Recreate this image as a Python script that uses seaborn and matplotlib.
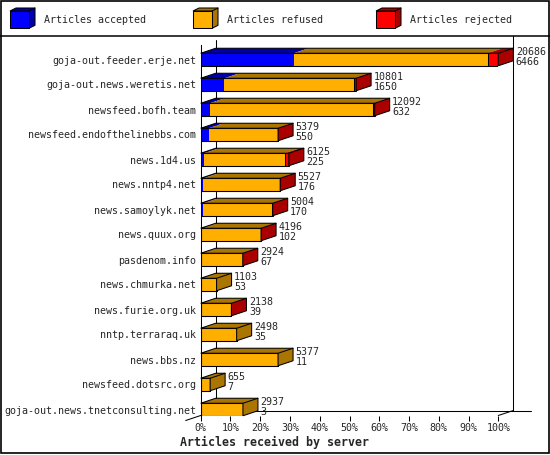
import matplotlib
matplotlib.use("Agg")
import matplotlib.pyplot as plt
import seaborn as sns
import pandas as pd
from matplotlib.patches import Polygon, Rectangle
from matplotlib.lines import Line2D

# ---------------- data ----------------
hosts = [
    "goja-out.feeder.erje.net",
    "goja-out.news.weretis.net",
    "newsfeed.bofh.team",
    "newsfeed.endofthelinebbs.com",
    "news.1d4.us",
    "news.nntp4.net",
    "news.samoylyk.net",
    "news.quux.org",
    "pasdenom.info",
    "news.chmurka.net",
    "news.furie.org.uk",
    "nntp.terraraq.uk",
    "news.bbs.nz",
    "newsfeed.dotsrc.org",
    "goja-out.news.tnetconsulting.net",
]
offered = [20686, 10801, 12092, 5379, 6125, 5527, 5004, 4196, 2924, 1103, 2138, 2498, 5377, 655, 2937]
accepted = [6466, 1650, 632, 550, 225, 176, 170, 102, 67, 53, 39, 35, 11, 7, 3]
rejected = [750, 150, 90, 20, 280, 25, 20, 15, 10, 0, 10, 0, 0, 0, 0]
refused = [o - a - r for o, a, r in zip(offered, accepted, rejected)]

series_names = ["Articles accepted", "Articles refused", "Articles rejected"]
front_colors = ["#0000FF", "#FFAF00", "#FF0000"]
dark_colors = ["#0000AA", "#AA7500", "#AA0000"]
pct_ticks = [0, 10, 20, 30, 40, 50, 60, 70, 80, 90, 100]
x_label = "Articles received by server"

# ---------------- style ----------------
sns.set_style("white")
plt.rcParams["font.family"] = ["DejaVu Sans Mono"]
plt.rcParams["font.size"] = 7.2

W, H = 550, 455
fig = plt.figure(figsize=(W / 100, H / 100), dpi=100)
fig.patch.set_facecolor("white")

LW = 0.75  # ~1 px

ax_left, ax_right, ax_top, ax_bot = 200.7, 498.3, 45.0, 415.5
ax = fig.add_axes([ax_left / W, 1 - ax_bot / H, (ax_right - ax_left) / W, (ax_bot - ax_top) / H])
ax.set_facecolor("none")

df = pd.DataFrame({
    "host": hosts,
    "offered": offered,
    "acc_ref": [a + r for a, r in zip(accepted, refused)],
    "accepted": accepted,
})

common = dict(data=df, y="host", orient="h", width=0.5, errorbar=None, saturation=1, ax=ax)
sns.barplot(x="offered", color=front_colors[2], linewidth=0, **common)
sns.barplot(x="acc_ref", color=front_colors[1], linewidth=0, **common)
sns.barplot(x="accepted", color=front_colors[0], linewidth=0, **common)
sns.barplot(x="offered", color="black", fill=False, linewidth=LW, **common)
sns.barplot(x="acc_ref", color="black", fill=False, linewidth=LW, **common)

max_total = max(offered)
n = len(hosts)
y_top_data = (ax_top - 59.5) / 25.0
y_bot_data = (ax_bot - 59.5) / 25.0
ax.set_xlim(0, max_total)
ax.set_ylim(y_bot_data, y_top_data)

# pixel scale
sx = (ax_right - ax_left) / max_total      # px per article
sy = 25.0                                    # px per category
dx = 15.0 / sx
dy = 5.0 / sy
half = 0.25


def px2data(x, y):
    return ax.transData.inverted().transform((x, H - y))


# ---------------- 3D faces ----------------
for i in range(n):
    yt, yb = i - half, i + half
    segs = [(0, accepted[i]), (accepted[i], accepted[i] + refused[i]),
            (accepted[i] + refused[i], offered[i])]
    last = 0
    for k, (x0, x1) in enumerate(segs):
        if x1 - x0 > 0:
            last = k
            ax.add_patch(Polygon([(x0, yt), (x1, yt), (x1 + dx, yt - dy), (x0 + dx, yt - dy)],
                                 closed=True, facecolor=dark_colors[k], edgecolor="none",
                                 clip_on=False, zorder=3))
    T = offered[i]
    ax.add_patch(Polygon([(T, yt), (T + dx, yt - dy), (T + dx, yb - dy), (T, yb)],
                         closed=True, facecolor=dark_colors[last], edgecolor="none",
                         clip_on=False, zorder=3))
    ax.add_patch(Polygon([(0, yt), (dx, yt - dy), (T + dx, yt - dy), (T + dx, yb - dy), (T, yb), (T, yt)],
                         closed=True, fill=False, edgecolor="black", linewidth=LW,
                         clip_on=False, zorder=4))
    ax.add_line(Line2D([T, T + dx], [yt, yt - dy], color="black", linewidth=LW,
                       clip_on=False, zorder=4))
    # value labels
    tx = T + dx + 2.5 / sx
    ax.text(tx, yt - dy + 6.6 / sy, f"{offered[i]}", ha="left", va="baseline",
            fontsize=7.2, clip_on=False, zorder=5)
    ax.text(tx, yt - dy + 16.6 / sy, f"{accepted[i]}", ha="left", va="baseline",
            fontsize=7.2, clip_on=False, zorder=5)

# ---------------- frame (back wall / floor) ----------------
def frame_line(pts):
    d = [px2data(x, y) for x, y in pts]
    ax.add_line(Line2D([p[0] for p in d], [p[1] for p in d], color="black",
                       linewidth=LW, clip_on=False, zorder=0.5))

back_l = ax_left + 15
back_r = ax_right + 15
floor_y = ax_bot - 5
frame_line([(back_l, 40), (back_l, floor_y)])
frame_line([(back_r, 36), (back_r, floor_y)])
frame_line([(back_l, floor_y), (back_r + 18, floor_y)])
frame_line([(back_l, floor_y), (ax_left - 15, ax_bot + 5)])
frame_line([(back_r, floor_y), (ax_right, ax_bot)])

# ---------------- axes styling ----------------
for s in ["top", "right", "bottom"]:
    ax.spines[s].set_visible(False)
ax.spines["left"].set_linewidth(LW)
ax.spines["left"].set_color("black")
ax.set_xticks([p / 100 * max_total for p in pct_ticks])
ax.set_xticklabels([f"{p}%" for p in pct_ticks], fontsize=7.2)
ax.tick_params(axis="x", direction="out", length=3.6, width=LW, pad=2, color="black", bottom=True)
ax.tick_params(axis="y", length=0, pad=3.3, labelsize=7.2)
ax.set_xlabel("")
ax.set_ylabel("")
fig.text(275 / W, 1 - 446 / H, x_label, ha="center", va="baseline",
         fontsize=8.4, fontweight="bold")

# ---------------- legend ----------------
def fpt(x, y):
    return (x / W, 1 - y / H)

leg_box_x = [10, 193, 376]
for k in range(3):
    bx = leg_box_x[k]
    x0, x1, y0, y1 = bx, bx + 19, 11, 28.3
    ldx, ldy = 6, 3
    fig.add_artist(Polygon([fpt(x0, y0), fpt(x0 + ldx, y0 - ldy), fpt(x1 + ldx, y0 - ldy),
                            fpt(x1 + ldx, y1 - ldy), fpt(x1, y1), fpt(x1, y0)],
                           closed=True, facecolor=dark_colors[k], edgecolor="black",
                           linewidth=LW, transform=fig.transFigure))
    fig.add_artist(Line2D([x1 / W, (x1 + ldx) / W], [1 - y0 / H, 1 - (y0 - ldy) / H],
                          color="black", linewidth=LW, transform=fig.transFigure))
    fig.add_artist(Rectangle(fpt(x0, y1), (x1 - x0) / W, (y1 - y0) / H,
                             facecolor=front_colors[k], edgecolor="black", linewidth=LW,
                             transform=fig.transFigure))
    fig.text((bx + 34) / W, 1 - 23 / H, series_names[k], ha="left", va="baseline", fontsize=7.2)

# separator and border
fig.add_artist(Line2D([0, 1], [1 - 35.5 / H, 1 - 35.5 / H], color="black", linewidth=1.1,
                      transform=fig.transFigure))
fig.add_artist(Rectangle(fpt(1, 453), 547.5 / W, 452 / H, fill=False, edgecolor="black",
                         linewidth=1.2, transform=fig.transFigure))

fig.savefig("out.png", dpi=100)
